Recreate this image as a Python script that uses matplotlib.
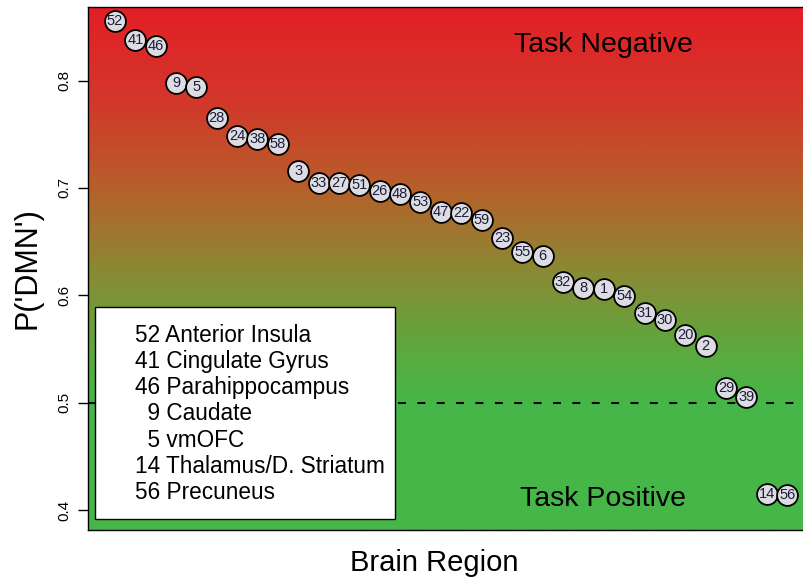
import matplotlib
matplotlib.use("Agg")
import matplotlib.pyplot as plt
import numpy as np
from matplotlib.colors import LinearSegmentedColormap
from matplotlib.patches import Rectangle

plt.rcParams["font.family"] = ["Liberation Sans", "DejaVu Sans"]

# region ids in plotted order and their P('DMN') values
regiones = [52, 41, 46, 9, 5, 28, 24, 38, 58, 3, 33, 27, 51, 26, 48, 53, 47,
            22, 59, 23, 55, 6, 32, 8, 1, 54, 31, 30, 20, 2, 29, 39, 14, 56]
p_dmn = [0.856, 0.838, 0.832, 0.798, 0.794, 0.765, 0.748, 0.746, 0.741,
         0.716, 0.705, 0.705, 0.703, 0.697, 0.694, 0.687, 0.678, 0.677,
         0.670, 0.653, 0.640, 0.637, 0.612, 0.607, 0.606, 0.599, 0.584,
         0.577, 0.563, 0.553, 0.514, 0.505, 0.415, 0.414]

leyenda = ["52 Anterior Insula", "41 Cingulate Gyrus", "46 Parahippocampus",
           "  9 Caudate", "  5 vmOFC", "14 Thalamus/D. Striatum",
           "56 Precuneus"]

umbral = 0.5
yticks = [0.4, 0.5, 0.6, 0.7, 0.8]

fig = plt.figure(figsize=(8.04, 5.81), dpi=100)
ax = fig.add_axes([88 / 804, 1 - 530 / 581, 726 / 804, 523 / 581])

n = len(regiones)
x = np.arange(1, n + 1)
xlim = (1 - 0.04 * (n - 1), n + 0.04 * (n - 1))
ylim = (0.3814, 0.8686)
ax.set_xlim(*xlim)
ax.set_ylim(*ylim)

# fondo: degradado de rojo (arriba) a verde (umbral y abajo), pasando por naranja/oliva
paradas = [(0.0, "#46b648"), (0.14, "#5ea83e"), (0.33, "#8a8a34"),
           (0.54, "#b6602a"), (0.76, "#d2382a"), (1.0, "#e31f26")]
cmap = LinearSegmentedColormap.from_list("rg", paradas)
yy = np.linspace(ylim[0], ylim[1], 400)
t = np.clip((yy - umbral) / (ylim[1] - umbral), 0, 1)
ax.imshow(t[:, None], cmap=cmap, vmin=0, vmax=1, origin="lower", aspect="auto",
          extent=(xlim[0], xlim[1], ylim[0], ylim[1]), zorder=0,
          interpolation="bilinear")

ax.axhline(umbral, color="black", lw=1.5, ls=(0, (3.8, 5.5)), zorder=1)

for i, (r, p) in enumerate(zip(regiones, p_dmn)):
    ax.plot(x[i], p, "o", ms=15, mfc="#dcdce2", mec="black", mew=1.3,
            zorder=3 + 2 * i)
    ax.text(x[i], p, str(r), ha="center", va="center", fontsize=10.5,
            color="#1c1c3a", zorder=4 + 2 * i)

ax.text(0.71, 0.928, "Task Negative", transform=ax.transAxes, ha="center",
        va="center", fontsize=20.5)
ax.text(0.71, 0.06, "Task Positive", transform=ax.transAxes, ha="center",
        va="center", fontsize=20.5)

# cajita con los nombres de las regiones
ax.add_patch(Rectangle((0.0096, 0.021), 0.4133, 0.4054, transform=ax.transAxes,
                       facecolor="white", edgecolor="black", lw=1, zorder=50))
for k, s in enumerate(leyenda):
    ax.text(47 / 726, (195 - k * 26.3) / 523, s, transform=ax.transAxes,
            ha="left", va="center", fontsize=16.3, zorder=51)

ax.set_xticks([])
ax.set_yticks(yticks)
ax.set_yticklabels([f"{v:.1f}" for v in yticks], rotation=90, va="center")
ax.tick_params(axis="y", length=7, width=1, pad=5, labelsize=11)
for s in ax.spines.values():
    s.set_linewidth(1)
    s.set_zorder(60)

ax.set_ylabel("P('DMN')", fontsize=22, labelpad=11)
fig.text(434 / 804, 1 - 563 / 581, "Brain Region", ha="center", va="center",
         fontsize=21)

fig.savefig("out.png", dpi=100)
